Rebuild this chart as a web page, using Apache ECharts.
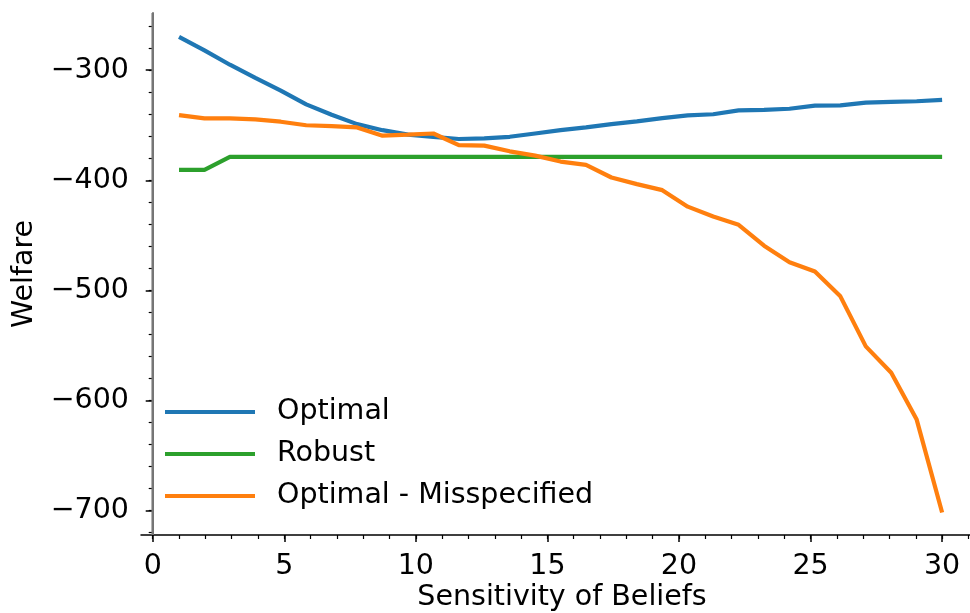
<!DOCTYPE html>
<html>
<head>
<meta charset="utf-8">
<script src="https://cdn.jsdelivr.net/npm/echarts@6/dist/echarts.min.js"></script>
<style>
  html, body { margin: 0; padding: 0; background: #fff; }
  #chart { width: 970px; height: 613px; }
</style>
</head>
<body>
<div id="chart"></div>
<script>
// Sensitivity values (31 evenly spaced points from 1 to 30)
const sensitivity = [1, 1.9667, 2.9333, 3.9, 4.8667, 5.8333, 6.8, 7.7667, 8.7333, 9.7,
  10.6667, 11.6333, 12.6, 13.5667, 14.5333, 15.5, 16.4667, 17.4333, 18.4, 19.3667,
  20.3333, 21.3, 22.2667, 23.2333, 24.2, 25.1667, 26.1333, 27.1, 28.0667, 29.0333, 30];

const optimal = [-269.7, -282, -295, -307, -318.5, -331, -340.5, -349, -354.5, -358.5,
  -360.5, -362.5, -362, -360.5, -357.5, -354.5, -352, -349, -346.5, -343.5,
  -341, -340, -336.5, -336, -335, -332.2, -332, -329.5, -328.8, -328.2, -327];

const robust = [-390.5, -390.5, -378.8, -378.8, -378.8, -378.8, -378.8, -378.8, -378.8, -378.8,
  -378.8, -378.8, -378.8, -378.8, -378.8, -378.8, -378.8, -378.8, -378.8, -378.8,
  -378.8, -378.8, -378.8, -378.8, -378.8, -378.8, -378.8, -378.8, -378.8, -378.8, -378.8];

const misspecified = [-340.8, -343.8, -343.8, -344.7, -346.8, -350, -350.8, -352, -359.5, -358.6,
  -357.5, -368, -368.5, -373.7, -377.6, -383, -386, -397.5, -403.5, -409,
  -424, -433, -440.5, -459.5, -474.5, -483, -505.5, -551, -575, -617.5, -702];

// Tick positions
const xMajorTicks = [0, 5, 10, 15, 20, 25, 30];
const xMinorTicks = [0, 1, 2, 3, 4, 5, 6, 7, 8, 9, 10, 11, 12, 13, 14, 15, 16, 17, 18, 19,
  20, 21, 22, 23, 24, 25, 26, 27, 28, 29, 30, 31];
const yMajorTicks = [-700, -600, -500, -400, -300];
const yMinorTicks = [-720, -700, -680, -660, -640, -620, -600, -580, -560, -540, -520, -500,
  -480, -460, -440, -420, -400, -380, -360, -340, -320, -300, -280, -260];

// Vertical reference line position
const refLineX = 0;

const FONT = 'DejaVu Sans';
const FS = 28.5;
const X_MIN = -0.445, X_MAX = 31.06;
const Y_MIN = -722.4, Y_MAX = -248;

const pair = (ys) => sensitivity.map((x, i) => [x, ys[i]]);
const minusFmt = (v) => (v < 0 ? '\u2212' : '') + Math.abs(v);

const chart = echarts.init(document.getElementById('chart'), null, { renderer: 'canvas' });

const baseX = {
  type: 'value', min: X_MIN, max: X_MAX, position: 'bottom',
  splitLine: { show: false }
};
const baseY = {
  type: 'value', min: Y_MIN, max: Y_MAX, position: 'left',
  splitLine: { show: false }
};

chart.setOption({
  animation: false,
  backgroundColor: '#ffffff',
  textStyle: { fontFamily: FONT },
  grid: { left: 141, right: 0, top: 13, bottom: 78, containLabel: false },
  xAxis: [
    Object.assign({}, baseX, {
      axisLine: { show: true, lineStyle: { color: '#000', width: 1.5 } },
      axisTick: { show: true, customValues: xMajorTicks, length: 7, lineStyle: { color: '#000', width: 1.5 } },
      axisLabel: { show: true, customValues: xMajorTicks, margin: 17, fontSize: FS, color: '#000', fontFamily: FONT }
    }),
    Object.assign({}, baseX, {
      axisLine: { show: false },
      axisTick: { show: true, customValues: xMinorTicks, length: 4, lineStyle: { color: '#000', width: 1.2 } },
      axisLabel: { show: false }
    })
  ],
  yAxis: [
    Object.assign({}, baseY, {
      axisLine: { show: true, lineStyle: { color: '#000', width: 1.5 } },
      axisTick: { show: true, customValues: yMajorTicks, length: 7, lineStyle: { color: '#000', width: 1.5 } },
      axisLabel: { show: true, customValues: yMajorTicks, margin: 12, fontSize: FS, color: '#000', fontFamily: FONT, formatter: minusFmt }
    }),
    Object.assign({}, baseY, {
      axisLine: { show: false },
      axisTick: { show: true, customValues: yMinorTicks, length: 4, lineStyle: { color: '#000', width: 1.2 } },
      axisLabel: { show: false }
    })
  ],
  legend: {
    left: 165, top: 397, orient: 'vertical', padding: 0,
    icon: 'rect', itemWidth: 90, itemHeight: 4, itemGap: 12,
    textStyle: { fontSize: FS, fontFamily: FONT, color: '#000', lineHeight: 30, padding: [0, 0, 0, 17] },
    data: ['Optimal', 'Robust', 'Optimal - Misspecified']
  },
  graphic: [
    { type: 'text', x: 562, y: 598, style: { text: 'Sensitivity of Beliefs', font: FS + 'px "DejaVu Sans"', fill: '#000', align: 'center', verticalAlign: 'middle' } },
    { type: 'text', x: 25, y: 274, rotation: Math.PI / 2, style: { text: 'Welfare', font: FS + 'px "DejaVu Sans"', fill: '#000', align: 'center', verticalAlign: 'middle' } }
  ],
  series: [
    {
      // vertical gray line at x = 0 spanning the full y range
      name: 'reference', type: 'line', data: [[refLineX, Y_MIN], [refLineX, Y_MAX]],
      showSymbol: false, symbol: 'none', silent: true, z: 3,
      lineStyle: { width: 2.5, color: '#777777', opacity: 1 }
    },
    {
      name: 'Optimal', type: 'line', data: pair(optimal),
      showSymbol: false, symbol: 'none', color: '#1f77b4', z: 2,
      lineStyle: { width: 4.2, color: '#1f77b4' }
    },
    {
      name: 'Robust', type: 'line', data: pair(robust),
      showSymbol: false, symbol: 'none', color: '#2ca02c', z: 2,
      lineStyle: { width: 4.2, color: '#2ca02c' }
    },
    {
      name: 'Optimal - Misspecified', type: 'line', data: pair(misspecified),
      showSymbol: false, symbol: 'none', color: '#ff7f0e', z: 2,
      lineStyle: { width: 4.2, color: '#ff7f0e' }
    }
  ]
});
</script>
</body>
</html>
